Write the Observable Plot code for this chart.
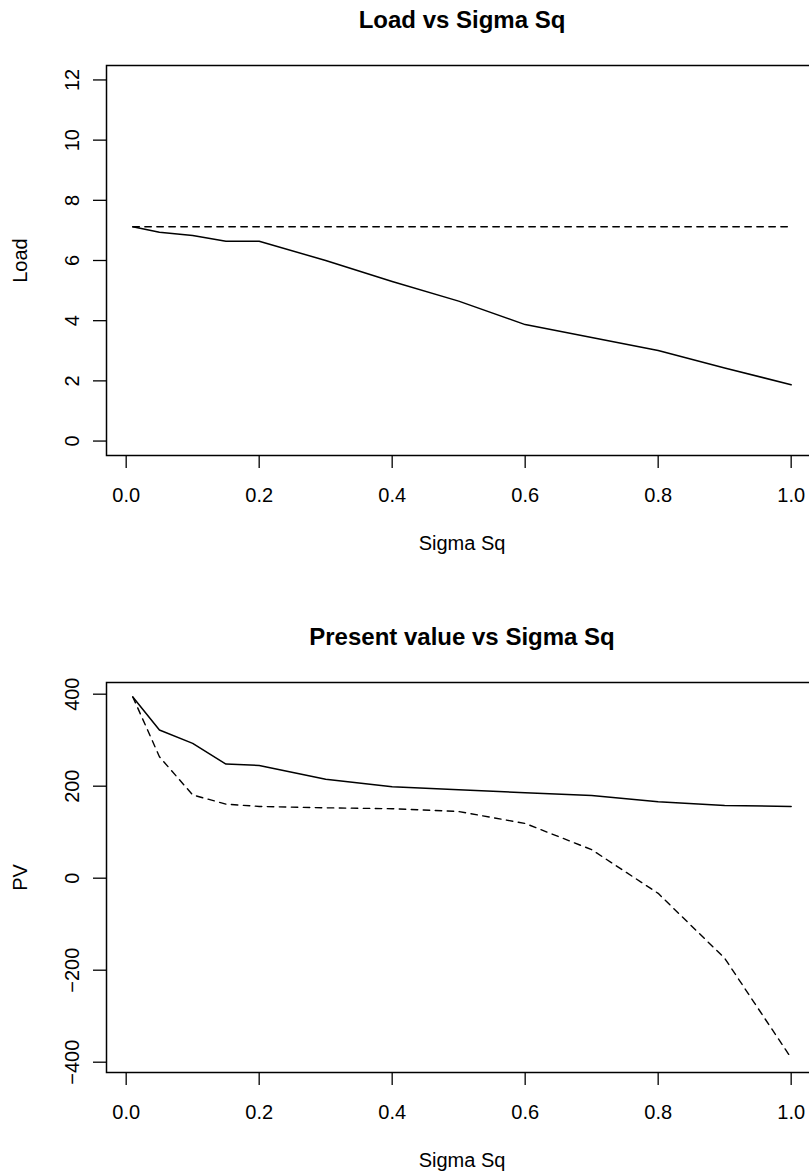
<!DOCTYPE html>
<html>
<head>
<meta charset="utf-8">
<script src="https://cdn.jsdelivr.net/npm/d3@7"></script>
<script src="https://cdn.jsdelivr.net/npm/@observablehq/plot@0.6"></script>
<style>
  html, body { margin: 0; padding: 0; background: #fff; overflow: hidden; width: 809px; height: 1174px; }
  #charts { width: 809px; overflow: hidden; }
  #charts svg { display: block; max-width: none !important; }
</style>
</head>
<body>
<div id="charts"></div>
<script>
// Sigma squared values at which the model was evaluated
const sigmaSq = [0.01, 0.05, 0.1, 0.15, 0.2, 0.3, 0.4, 0.5, 0.6, 0.7, 0.8, 0.9, 1.0];

// Load: optimised (solid) and fixed baseline (dashed)
const loadSolid  = [7.12, 6.94, 6.83, 6.64, 6.64, 6.00, 5.30, 4.65, 3.87, 3.44, 3.01, 2.43, 1.87];
const loadDashed = [7.12, 7.12, 7.12, 7.12, 7.12, 7.12, 7.12, 7.12, 7.12, 7.12, 7.12, 7.12, 7.12];

// Present value: optimised load (solid) and fixed load (dashed)
const pvSolid  = [394, 322, 293, 248, 245, 215, 199, 192, 186, 180, 166, 158, 156];
const pvDashed = [394, 264, 181, 161, 156, 153, 151, 145, 119, 62, -33, -174, -391];

// Tick labels
const xTicks = [0.0, 0.2, 0.4, 0.6, 0.8, 1.0];
const loadTicks = [0, 2, 4, 6, 8, 10, 12];
const pvTicks = [-400, -200, 0, 200, 400];

const FONT = '"Liberation Sans", Arial, Helvetica, sans-serif';

// base-R style axis range: data extent widened by 4% on each side
function padded([lo, hi]) {
  const p = (hi - lo) * 0.04;
  return [lo - p, hi + p];
}

function panel({title, yLabel, yDomain, yTicks, solid, dashed, height, marginTop, marginBottom}) {
  const solidRows = sigmaSq.map((x, i) => ({x, y: solid[i]}));
  const dashedRows = sigmaSq.map((x, i) => ({x, y: dashed[i]}));
  return Plot.plot({
    width: 817,
    height,
    marginTop,
    marginBottom,
    marginLeft: 106,
    marginRight: 0,
    style: {fontFamily: FONT, fontSize: "20px", color: "black", background: "white", maxWidth: "none"},
    x: {domain: padded(d3.extent(sigmaSq))},
    y: {domain: padded(yDomain)},
    marks: [
      Plot.frame({stroke: "black", strokeWidth: 1.5}),
      Plot.axisX({ticks: xTicks, tickSize: 13, tickPadding: 19, tickFormat: d3.format(".1f"),
                  label: null, strokeWidth: 1.3, fill: "black"}),
      Plot.axisY({ticks: yTicks, tickSize: 13, tickFormat: () => "", label: null, strokeWidth: 1.3}),
      // rotated y tick labels
      Plot.text(yTicks, {y: d => d, text: d => d3.format("d")(d), frameAnchor: "left",
                         dx: -28, rotate: -90, lineAnchor: "bottom", textAnchor: "middle", fill: "black"}),
      // axis titles
      Plot.text([yLabel], {frameAnchor: "left", dx: -80, rotate: -90, lineAnchor: "bottom",
                           textAnchor: "middle", fill: "black"}),
      Plot.text(["Sigma Sq"], {frameAnchor: "bottom", dy: 94, lineAnchor: "bottom", fill: "black"}),
      Plot.text([title], {frameAnchor: "top", dy: -37.5, lineAnchor: "bottom", fontSize: 24,
                          fontWeight: "bold", fill: "black"}),
      Plot.line(dashedRows, {x: "x", y: "y", stroke: "black", strokeWidth: 1.4, strokeDasharray: "6.5,5.5"}),
      Plot.line(solidRows, {x: "x", y: "y", stroke: "black", strokeWidth: 1.5})
    ]
  });
}

const charts = document.getElementById("charts");

charts.append(panel({
  title: "Load vs Sigma Sq",
  yLabel: "Load",
  yDomain: [0, 12],
  yTicks: loadTicks,
  solid: loadSolid,
  dashed: loadDashed,
  height: 600,
  marginTop: 65,
  marginBottom: 145
}));

charts.append(panel({
  title: "Present value vs Sigma Sq",
  yLabel: "PV",
  yDomain: d3.extent(pvSolid.concat(pvDashed)),
  yTicks: pvTicks,
  solid: pvSolid,
  dashed: pvDashed,
  height: 574,
  marginTop: 82,
  marginBottom: 102
}));
</script>
</body>
</html>
